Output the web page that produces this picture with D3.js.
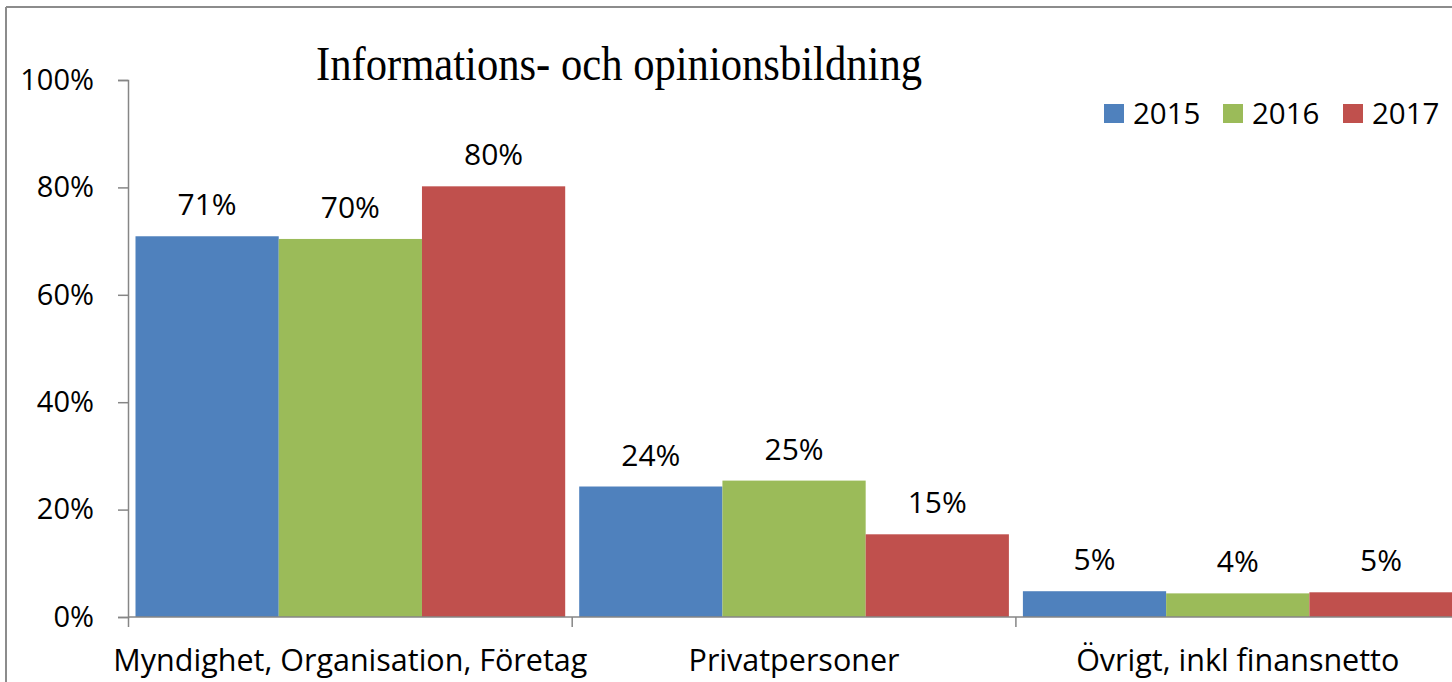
<!DOCTYPE html>
<html><head><meta charset="utf-8">
<script src="https://cdn.jsdelivr.net/npm/d3@7"></script>
<style>html,body{margin:0;padding:0;background:#fff;overflow:hidden}</style>
</head><body>
<svg id="c" width="1452" height="682"></svg>
<script>
const title = "Informations- och opinionsbildning";
const categories = ["Myndighet, Organisation, Företag", "Privatpersoner", "Övrigt, inkl finansnetto"];
const years = ["2015", "2016", "2017"];
const values2015 = [0.709, 0.243, 0.048];
const values2016 = [0.704, 0.254, 0.044];
const values2017 = [0.802, 0.154, 0.046];
const yTicks = [0, 0.2, 0.4, 0.6, 0.8, 1.0];
const colors = ["#4F81BD", "#9BBB59", "#C0504D"];

const series = [values2015, values2016, values2017];
const svg = d3.select("#c");
const sans = "'Open Sans', sans-serif";

// frame
svg.append("line").attr("x1",6).attr("x2",1452).attr("y1",7).attr("y2",7).attr("stroke","#8c8c8c").attr("stroke-width",2);
svg.append("line").attr("x1",6).attr("x2",6).attr("y1",7).attr("y2",682).attr("stroke","#8c8c8c").attr("stroke-width",2);

const y = d3.scaleLinear().domain([0,1]).range([617,80]);
const x0 = d3.scaleBand().domain(categories).range([128.5, 128.5 + 3*443.7]);
const x1 = d3.scaleBand().domain(years).range([7, x0.bandwidth()-7]);

// bars
categories.forEach((c, ci) => {
  years.forEach((yr, si) => {
    const v = series[si][ci];
    svg.append("rect")
      .attr("x", x0(c) + x1(yr))
      .attr("y", y(v))
      .attr("width", x1.bandwidth())
      .attr("height", y(0) - y(v))
      .attr("fill", colors[si]);
    svg.append("text")
      .attr("x", x0(c) + x1(yr) + x1.bandwidth()/2)
      .attr("y", y(v) - 21)
      .attr("text-anchor","middle")
      .attr("font-family", sans).attr("font-size", 30)
      .attr("fill","#000")
      .text(d3.format(".0%")(v));
  });
});

// y axis
const gy = svg.append("g").attr("transform","translate(128,0)")
  .call(d3.axisLeft(y).tickValues(yTicks).tickFormat(d3.format(".0%")).tickSizeOuter(0).tickSize(10).tickPadding(24));
gy.select(".domain").attr("stroke","#868686").attr("stroke-width",1.5);
gy.selectAll(".tick line").attr("stroke","#868686").attr("stroke-width",1.5);
gy.selectAll(".tick text").attr("font-family", sans).attr("font-size", 29).attr("fill","#000");

// x axis
const gx = svg.append("g").attr("transform","translate(0,617)");
gx.append("line").attr("x1",128).attr("x2",1460).attr("y1",0).attr("y2",0).attr("stroke","#868686").attr("stroke-width",1.5);
const bounds = categories.map(c => x0(c)).concat([x0(categories[2]) + x0.bandwidth()]);
gx.selectAll("line.t").data(bounds).enter().append("line").attr("class","t")
  .attr("x1", d=>d).attr("x2", d=>d).attr("y1",0).attr("y2",10).attr("stroke","#868686").attr("stroke-width",1.5);
gx.selectAll("text").data(categories).enter().append("text")
  .attr("x", d => x0(d) + x0.bandwidth()/2)
  .attr("y", 54)
  .attr("text-anchor","middle")
  .attr("font-family", sans).attr("font-size", 30.5).attr("fill","#000")
  .text(d=>d);

// title
svg.append("text").attr("x", 316).attr("y", 80)
  .attr("font-family","'Liberation Serif', 'Times New Roman', serif").attr("font-size", 48)
  .attr("textLength", 606).attr("lengthAdjust","spacingAndGlyphs")
  .attr("fill","#000").text(title);

// legend
const legX = [1104, 1223, 1343];
years.forEach((yr, i) => {
  svg.append("rect").attr("x", legX[i]).attr("y", 104).attr("width", 20).attr("height", 19).attr("fill", colors[i]);
  svg.append("text").attr("x", legX[i] + 29).attr("y", 124)
    .attr("font-family", sans).attr("font-size", 29.5).attr("fill","#000").text(yr);
});
</script>
</body></html>
